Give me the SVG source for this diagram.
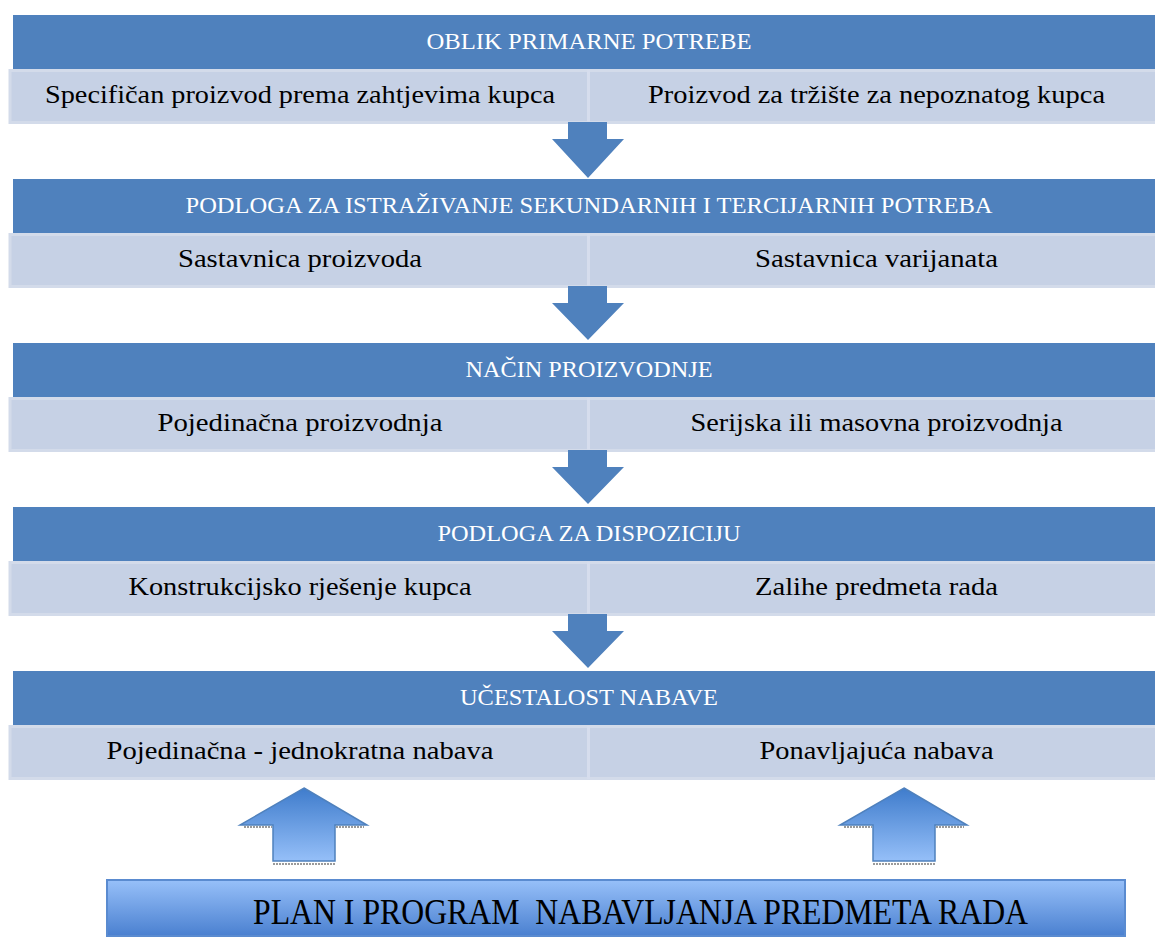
<svg xmlns="http://www.w3.org/2000/svg" width="1155" height="937" viewBox="0 0 1155 937">
<defs>
<style>
.hdr{fill:#4f81bd}
.sub{fill:#c6d1e5;stroke:#d3dbea;stroke-width:3}
.div{stroke:#d6dded;stroke-width:3}
.ht{font-family:"Liberation Serif","Times New Roman",serif;font-size:24px;fill:#ffffff;text-anchor:middle}
.st{font-family:"Liberation Serif","Times New Roman",serif;font-size:25px;fill:#000000;text-anchor:middle}
.bt{font-family:"Liberation Serif","Times New Roman",serif;font-size:36px;fill:#000000;text-anchor:middle}
.dn{fill:#4f81bd}
.up{fill:url(#upg);stroke:#4f81bd;stroke-width:1.5}
.sh{stroke:#9a9a9a;stroke-width:2;stroke-dasharray:2 1}
</style>
<linearGradient id="upg" x1="0" y1="0" x2="0" y2="1">
<stop offset="0" stop-color="#3f7ccc"/>
<stop offset="1" stop-color="#95bff8"/>
</linearGradient>
<linearGradient id="botg" x1="0" y1="0" x2="0" y2="1">
<stop offset="0" stop-color="#97c0f9"/>
<stop offset="1" stop-color="#4a80d0"/>
</linearGradient>
</defs>

<g id="band1">
<rect class="hdr" x="13" y="15" width="1142" height="54"/>
<rect class="sub" x="10" y="70.5" width="1150" height="52"/>
<line class="div" x1="588.5" y1="70" x2="588.5" y2="123"/>
<text class="ht" x="589" y="48.5" textLength="325" lengthAdjust="spacingAndGlyphs">OBLIK PRIMARNE POTREBE</text>
<text class="st" x="300" y="102.5" textLength="510" lengthAdjust="spacingAndGlyphs">Specifičan proizvod prema zahtjevima kupca</text>
<text class="st" x="876.5" y="102.5" textLength="457" lengthAdjust="spacingAndGlyphs">Proizvod za tržište za nepoznatog kupca</text>
</g>

<g id="band2">
<rect class="hdr" x="13" y="179" width="1142" height="54"/>
<rect class="sub" x="10" y="234.5" width="1150" height="52"/>
<line class="div" x1="588.5" y1="234" x2="588.5" y2="287"/>
<text class="ht" x="589" y="212.5" textLength="807" lengthAdjust="spacingAndGlyphs">PODLOGA ZA ISTRAŽIVANJE SEKUNDARNIH I TERCIJARNIH POTREBA</text>
<text class="st" x="300" y="266.5" textLength="244" lengthAdjust="spacingAndGlyphs">Sastavnica proizvoda</text>
<text class="st" x="876.5" y="266.5" textLength="243" lengthAdjust="spacingAndGlyphs">Sastavnica varijanata</text>
</g>

<g id="band3">
<rect class="hdr" x="13" y="343" width="1142" height="54"/>
<rect class="sub" x="10" y="398.5" width="1150" height="52"/>
<line class="div" x1="588.5" y1="398" x2="588.5" y2="451"/>
<text class="ht" x="589" y="376.5" textLength="247" lengthAdjust="spacingAndGlyphs">NAČIN PROIZVODNJE</text>
<text class="st" x="300" y="430.5" textLength="285" lengthAdjust="spacingAndGlyphs">Pojedinačna proizvodnja</text>
<text class="st" x="876.5" y="430.5" textLength="372" lengthAdjust="spacingAndGlyphs">Serijska ili masovna proizvodnja</text>
</g>

<g id="band4">
<rect class="hdr" x="13" y="507" width="1142" height="54"/>
<rect class="sub" x="10" y="562.5" width="1150" height="52"/>
<line class="div" x1="588.5" y1="562" x2="588.5" y2="615"/>
<text class="ht" x="589" y="540.5" textLength="303" lengthAdjust="spacingAndGlyphs">PODLOGA ZA DISPOZICIJU</text>
<text class="st" x="300" y="594.5" textLength="343" lengthAdjust="spacingAndGlyphs">Konstrukcijsko rješenje kupca</text>
<text class="st" x="876.5" y="594.5" textLength="243" lengthAdjust="spacingAndGlyphs">Zalihe predmeta rada</text>
</g>

<g id="band5">
<rect class="hdr" x="13" y="671" width="1142" height="54"/>
<rect class="sub" x="10" y="726.5" width="1150" height="52"/>
<line class="div" x1="588.5" y1="726" x2="588.5" y2="779"/>
<text class="ht" x="589" y="704.5" textLength="258" lengthAdjust="spacingAndGlyphs">UČESTALOST NABAVE</text>
<text class="st" x="300" y="758.5" textLength="387" lengthAdjust="spacingAndGlyphs">Pojedinačna - jednokratna nabava</text>
<text class="st" x="876.5" y="758.5" textLength="234" lengthAdjust="spacingAndGlyphs">Ponavljajuća nabava</text>
</g>

<g id="plan">
<rect x="107" y="880" width="1018" height="56" fill="url(#botg)" stroke="#5a8bd0" stroke-width="2"/>
<text class="bt" x="640.5" y="924" textLength="775" lengthAdjust="spacingAndGlyphs" xml:space="preserve">PLAN I PROGRAM  NABAVLJANJA PREDMETA RADA</text>
</g>

<g id="connectors">
<polygon class="dn" points="568,122 607,122 607,139 624,139 588,178 552,139 568,139"/>
<polygon class="dn" points="568,286 607,286 607,303 624,303 588,340 552,303 568,303"/>
<polygon class="dn" points="568,450 607,450 607,467 624,467 588,504 552,467 568,467"/>
<polygon class="dn" points="568,614 607,614 607,631 624,631 588,668 552,631 568,631"/>
<line class="sh" x1="244" y1="827" x2="272" y2="827"/>
<line class="sh" x1="336" y1="827" x2="364" y2="827"/>
<line class="sh" x1="273" y1="864" x2="335" y2="864"/>
<polygon class="up" points="304,788 367,825 335,825 335,861 273,861 273,825 240,825"/>
<line class="sh" x1="844" y1="827" x2="872" y2="827"/>
<line class="sh" x1="936" y1="827" x2="964" y2="827"/>
<line class="sh" x1="873" y1="864" x2="935" y2="864"/>
<polygon class="up" points="904,788 967,825 935,825 935,861 873,861 873,825 840,825"/>
</g>
</svg>
